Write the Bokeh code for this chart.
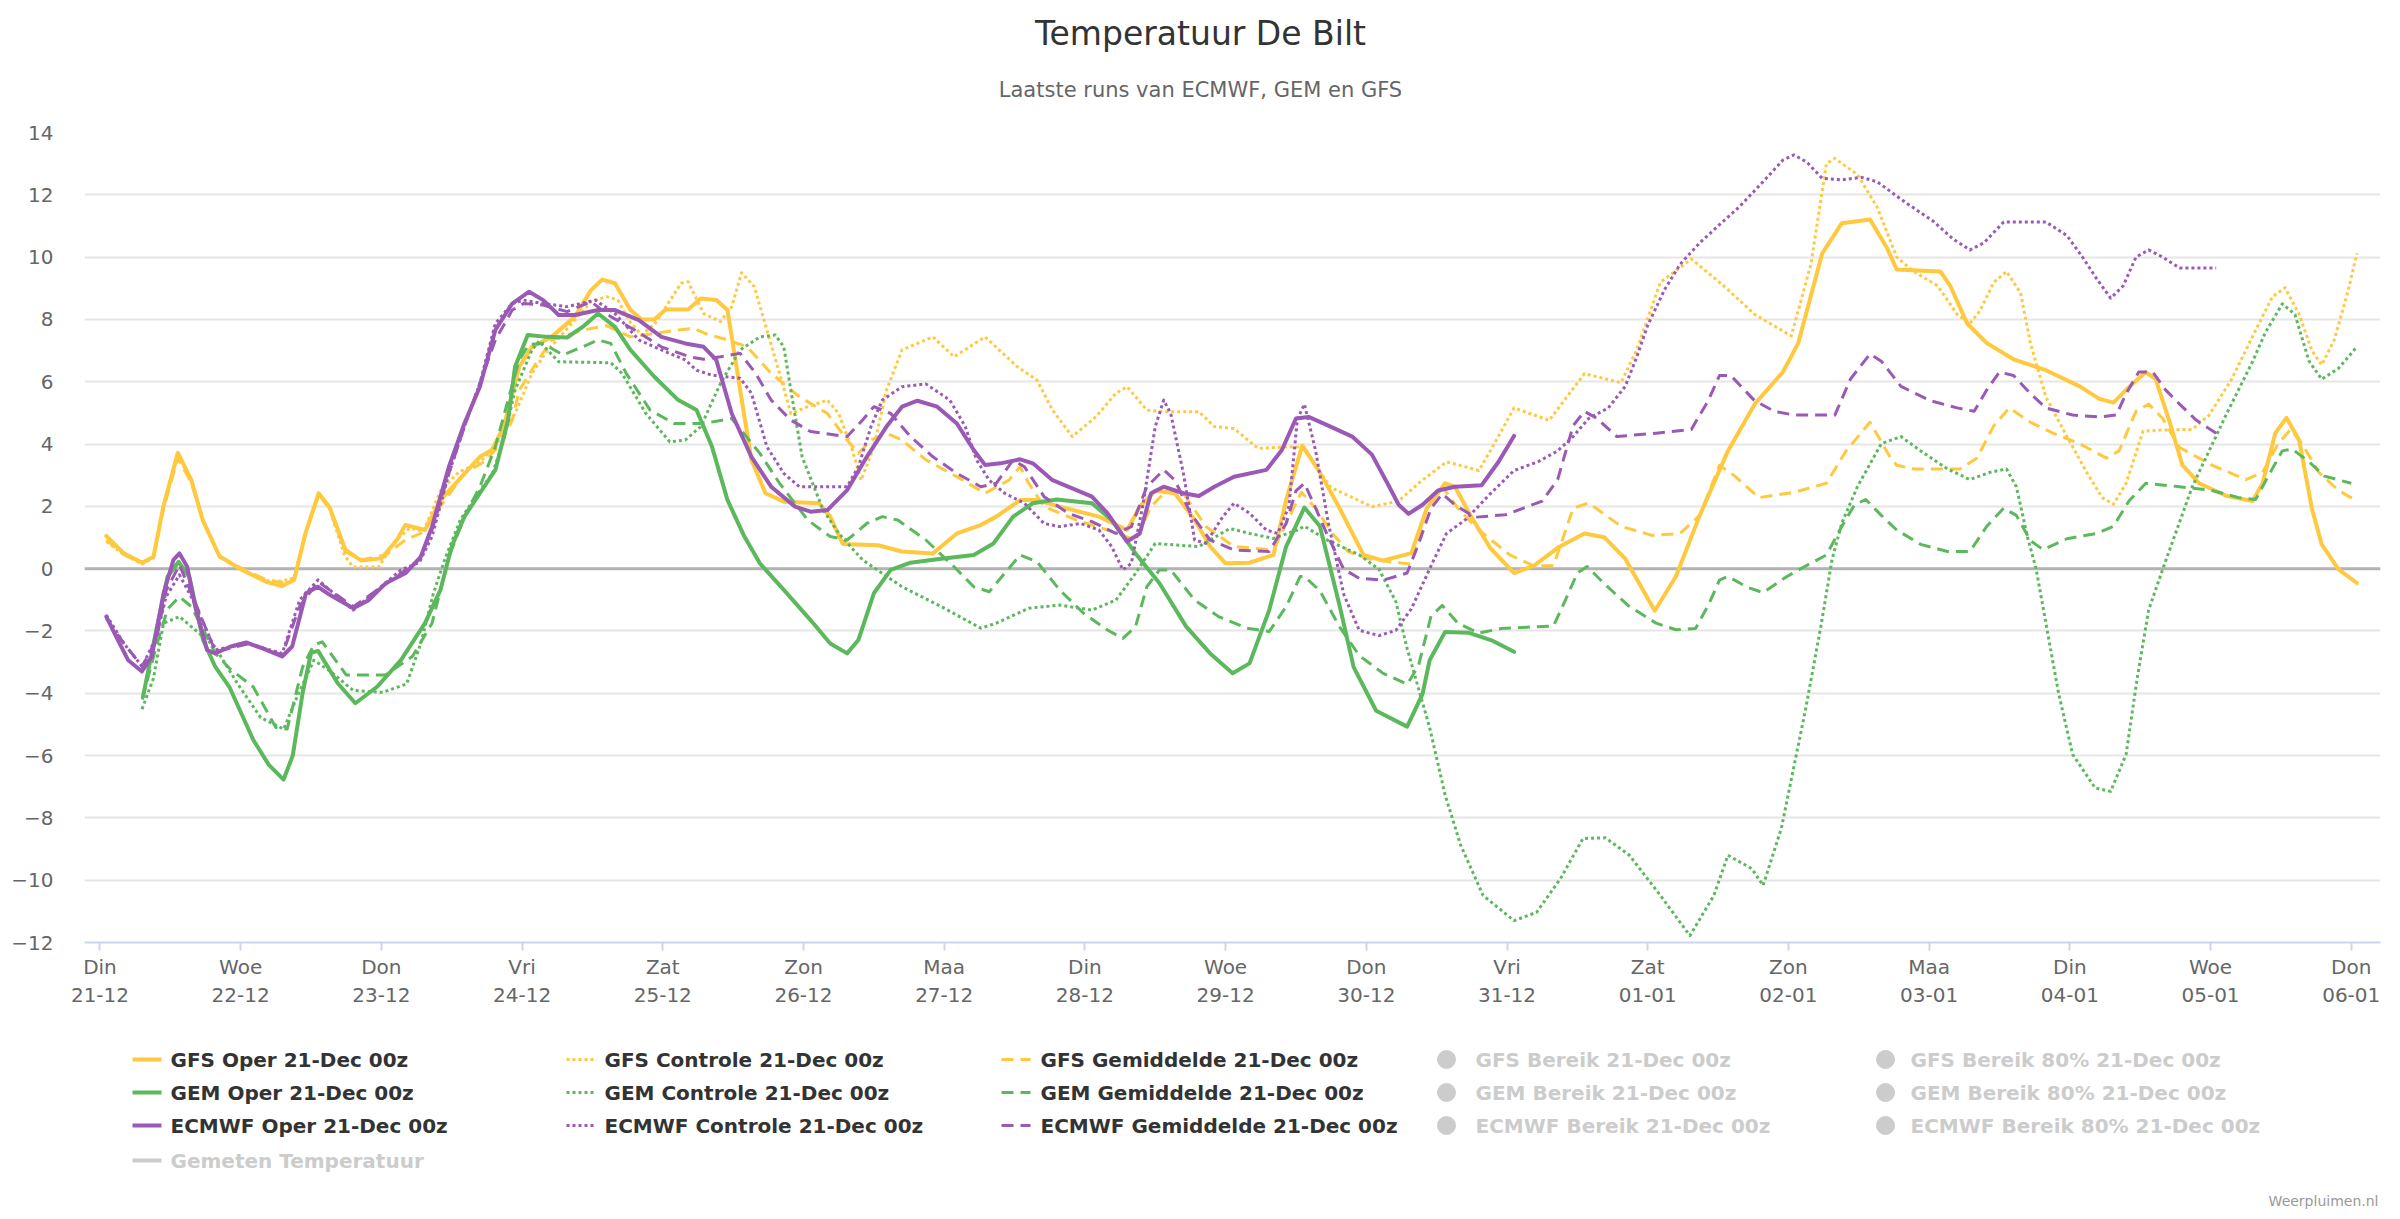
from bokeh.plotting import figure
from bokeh.models import Range1d, FixedTicker, Span
from bokeh.layouts import column
from bokeh.embed import file_html
from bokeh.resources import INLINE
from bokeh.core.properties import value

# ---------------- data (x = days since 21-12 00z, y = temperature °C) ----------------
day_names = ["Din", "Woe", "Don", "Vri", "Zat", "Zon", "Maa", "Din", "Woe",
             "Don", "Vri", "Zat", "Zon", "Maa", "Din", "Woe", "Don"]
day_dates = ["21-12", "22-12", "23-12", "24-12", "25-12", "26-12", "27-12", "28-12",
             "29-12", "30-12", "31-12", "01-01", "02-01", "03-01", "04-01", "05-01", "06-01"]
y_ticks = [-12, -10, -8, -6, -4, -2, 0, 2, 4, 6, 8, 10, 12, 14]

gfs_oper_x = [0.045, 0.17, 0.30, 0.38, 0.45, 0.553, 0.65, 0.73, 0.85, 1.01, 1.18, 1.295, 1.38, 1.46, 1.554,
              1.63, 1.745, 1.857, 2.00, 2.11, 2.17, 2.31, 2.42, 2.56, 2.70, 2.785, 2.87, 2.98, 3.07, 3.21,
              3.375, 3.49, 3.57, 3.66, 3.77, 3.85, 3.94, 4.02, 4.18, 4.27, 4.38, 4.46, 4.55, 4.63, 4.73,
              4.86, 5.11, 5.19, 5.28, 5.53, 5.70, 5.92, 6.09, 6.26, 6.37, 6.54, 6.66, 6.82, 7.10, 7.30,
              7.39, 7.50, 7.64, 7.78, 7.89, 8.00, 8.17, 8.34, 8.43, 8.545, 8.67, 8.81, 8.98, 9.12, 9.32,
              9.43, 9.56, 9.63, 9.74, 9.88, 10.05, 10.19, 10.36, 10.55, 10.69, 10.84, 11.05, 11.20, 11.37,
              11.57, 11.76, 11.96, 12.07, 12.24, 12.38, 12.58, 12.70, 12.77, 13.08, 13.15, 13.27, 13.41,
              13.60, 13.83, 14.07, 14.21, 14.31, 14.40, 14.54, 14.61, 14.71, 14.80, 14.92, 15.11, 15.30,
              15.37, 15.46, 15.54, 15.63, 15.72, 15.79, 15.91, 16.04]
gfs_oper_t = [1.05, 0.49, 0.19, 0.38, 1.99, 3.72, 2.84, 1.56, 0.39, -0.04, -0.42, -0.56, -0.36, 1.13, 2.42,
              1.99, 0.60, 0.26, 0.33, 0.92, 1.40, 1.24, 2.20, 2.90, 3.59, 3.81, 4.56, 6.48, 7.12, 7.44,
              8.09, 8.94, 9.28, 9.16, 8.30, 8.00, 8.00, 8.32, 8.32, 8.67, 8.62, 8.30, 5.73, 3.49, 2.42,
              2.15, 2.10, 1.67, 0.79, 0.75, 0.55, 0.49, 1.13, 1.40, 1.67, 2.20, 2.20, 1.99, 1.67, 1.24,
              1.99, 2.50, 2.42, 1.56, 0.71, 0.17, 0.19, 0.44, 2.20, 3.95, 3.09, 1.94, 0.44, 0.26, 0.50,
              1.94, 2.74, 2.63, 1.71, 0.67, -0.14, 0.09, 0.67, 1.13, 1.01, 0.32, -1.35, -0.25, 1.71,
              3.78, 5.28, 6.31, 7.24, 10.12, 11.09, 11.21, 10.30, 9.60, 9.54, 9.08, 7.87, 7.24,
              6.72, 6.37, 5.85, 5.45, 5.33, 5.74, 6.31, 6.08, 4.70, 3.32, 2.74, 2.34, 2.17,
              2.74, 4.35, 4.84, 4.12, 1.94, 0.78, -0.02, -0.46]

gfs_ctrl_x = [0.045, 0.17, 0.30, 0.38, 0.45, 0.553, 0.65, 0.73, 0.85, 1.01, 1.18, 1.29, 1.38, 1.46, 1.554,
              1.63, 1.74, 1.80, 1.98, 2.10, 2.20, 2.30, 2.42, 2.55, 2.70, 2.85, 2.95, 3.07, 3.18, 3.30,
              3.49, 3.60, 3.68, 3.77, 3.85, 3.95, 4.05, 4.13, 4.18, 4.29, 4.41, 4.49, 4.56, 4.65, 4.74,
              4.83, 4.91, 5.03, 5.17, 5.25, 5.34, 5.41, 5.50, 5.59, 5.70, 5.92, 6.07, 6.29, 6.52, 6.66,
              6.77, 6.91, 7.08, 7.22, 7.30, 7.44, 7.55, 7.81, 7.92, 8.06, 8.23, 8.45, 8.56, 8.67, 8.75,
              9.04, 9.23, 9.37, 9.57, 9.80, 9.91, 10.05, 10.30, 10.55, 10.81, 10.92, 11.09, 11.31, 11.54,
              11.76, 12.02, 12.16, 12.27, 12.33, 12.49, 12.63, 12.77, 12.89, 13.06, 13.20, 13.29, 13.36,
              13.46, 13.55, 13.65, 13.72, 13.83, 13.98, 14.12, 14.23, 14.31, 14.40, 14.52, 14.66, 14.87,
              14.99, 15.15, 15.30, 15.44, 15.53, 15.63, 15.72, 15.79, 15.88, 15.98, 16.04]
gfs_ctrl_t = [0.87, 0.45, 0.15, 0.35, 1.95, 3.65, 2.80, 1.60, 0.40, -0.05, -0.38, -0.40, -0.30, 1.10, 2.40,
              1.95, 0.40, 0.05, 0.05, 0.90, 1.30, 1.20, 2.50, 3.10, 3.40, 4.20, 4.98, 6.27, 7.00, 7.60,
              8.57, 8.73, 8.62, 7.90, 7.50, 7.90, 8.60, 9.16, 9.21, 8.19, 7.93, 8.41, 9.50, 9.05, 7.66,
              6.27, 4.98, 5.20, 5.41, 4.98, 3.91, 2.84, 3.91, 5.73, 7.02, 7.44, 6.80, 7.44, 6.48, 6.05,
              5.09, 4.24, 4.88, 5.63, 5.84, 5.09, 5.04, 5.04, 4.56, 4.50, 3.86, 3.91, 3.90, 3.09, 2.60,
              1.99, 2.17, 2.74, 3.43, 3.15, 4.01, 5.16, 4.76, 6.26, 5.97, 7.00, 9.19, 9.94, 9.08,
              8.16, 7.47, 9.77, 13.00, 13.17, 12.65, 11.61, 10.00, 9.54, 9.08, 8.16, 7.87, 8.27,
              9.19, 9.54, 8.85, 7.24, 5.51, 4.24, 3.09, 2.28, 2.07, 2.74, 4.41, 4.45, 4.47,
              4.93, 6.08, 7.47, 8.73, 9.02, 8.16, 7.00, 6.54, 7.35, 8.96, 10.12]

gfs_mean_x = [0.045, 0.17, 0.30, 0.38, 0.45, 0.553, 0.65, 0.73, 0.85, 1.01, 1.18, 1.29, 1.38, 1.46, 1.554,
              1.63, 1.74, 1.857, 2.03, 2.17, 2.28, 2.42, 2.59, 2.73, 2.85, 2.93, 2.98, 3.10, 3.21, 3.43,
              3.60, 3.77, 3.94, 4.11, 4.22, 4.30, 4.46, 4.60, 4.77, 4.97, 5.17, 5.31, 5.39, 5.48, 5.59,
              5.70, 5.87, 6.09, 6.29, 6.46, 6.54, 6.60, 6.71, 6.94, 7.16, 7.36, 7.47, 7.58, 7.70, 7.86,
              8.06, 8.34, 8.51, 8.54, 8.64, 8.76, 8.87, 9.01, 9.18, 9.32, 9.43, 9.54, 9.65, 9.80, 10.02,
              10.19, 10.33, 10.47, 10.58, 10.81, 11.03, 11.23, 11.37, 11.51, 11.62, 11.79, 12.04, 12.27,
              12.41, 12.58, 12.72, 12.77, 12.89, 13.22, 13.34, 13.46, 13.57, 13.72, 13.88, 14.07, 14.26,
              14.35, 14.47, 14.56, 14.66, 14.78, 15.01, 15.25, 15.37, 15.48, 15.57, 15.65, 15.77, 15.91,
              16.04]
gfs_mean_t = [0.92, 0.45, 0.18, 0.35, 1.90, 3.55, 2.75, 1.55, 0.40, 0.00, -0.35, -0.45, -0.30, 1.10, 2.35,
              1.95, 0.55, 0.28, 0.44, 0.92, 1.13, 2.00, 3.06, 3.43, 4.00, 4.77, 5.73, 6.60, 7.34, 7.66,
              7.80, 7.44, 7.55, 7.66, 7.71, 7.55, 7.34, 7.12, 6.27, 5.52, 4.98, 4.13, 3.70, 4.13, 4.34,
              4.13, 3.49, 2.95, 2.42, 2.84, 3.27, 2.74, 1.99, 1.56, 1.24, 0.92, 1.99, 2.52, 2.42, 1.35,
              0.71, 0.60, 2.20, 2.45, 1.94, 1.13, 0.55, 0.32, 0.21, 0.15, 1.94, 2.63, 1.94, 1.24, 0.44,
              0.09, 0.09, 1.94, 2.11, 1.36, 1.07, 1.13, 1.71, 3.32, 2.97, 2.28, 2.45, 2.74,
              3.78, 4.70, 3.60, 3.32, 3.20, 3.20, 3.55, 4.59, 5.16, 4.70, 4.35, 4.01, 3.55,
              3.78, 5.05, 5.28, 4.82, 3.89, 3.32, 2.86, 3.09, 4.01, 4.47, 4.01, 3.09, 2.51,
              2.17]

gem_oper_x = [0.306, 0.396, 0.48, 0.559, 0.635, 0.733, 0.818, 0.92, 1.09, 1.20, 1.305, 1.37, 1.44, 1.50,
              1.55, 1.69, 1.815, 1.97, 2.14, 2.31, 2.42, 2.50, 2.59, 2.70, 2.81, 2.90, 2.95, 3.04, 3.18,
              3.32, 3.43, 3.54, 3.66, 3.77, 3.94, 4.11, 4.24, 4.35, 4.46, 4.58, 4.69, 4.86, 5.05, 5.19,
              5.31, 5.39, 5.50, 5.62, 5.76, 5.95, 6.21, 6.35, 6.49, 6.63, 6.80, 7.05, 7.19, 7.36, 7.53,
              7.72, 7.89, 8.05, 8.17, 8.31, 8.43, 8.56, 8.67, 8.81, 8.91, 9.07, 9.29, 9.40, 9.45, 9.56,
              9.73, 9.89, 10.05]
gem_oper_t = [-4.11, -2.07, -0.26, 0.22, -0.26, -2.29, -3.14, -3.80, -5.50, -6.30, -6.77, -6.00, -4.00, -2.70,
              -2.64, -3.68, -4.32, -3.79, -2.93, -1.75, -0.68, 0.71, 1.67, 2.42, 3.17, 4.77, 6.48, 7.50, 7.44,
              7.42, 7.76, 8.19, 7.76, 7.02, 6.16, 5.41, 5.09, 3.91, 2.20, 1.03, 0.17, -0.68, -1.65, -2.40,
              -2.72, -2.29, -0.79, -0.04, 0.19, 0.30, 0.44, 0.81, 1.67, 2.10, 2.22, 2.10, 1.56, 0.49, -0.47,
              -1.86, -2.72, -3.36, -3.04, -1.33, 0.71, 1.96, 1.36, -1.18, -3.16, -4.56, -5.07, -4.02, -2.94, -2.03,
              -2.06, -2.30, -2.67]

gem_ctrl_x = [0.299, 0.38, 0.452, 0.565, 0.649, 0.816, 0.979, 1.142, 1.305, 1.41, 1.52, 1.63, 1.80, 2.01,
              2.18, 2.28, 2.37, 2.45, 2.56, 2.67, 2.79, 2.87, 2.95, 3.07, 3.12, 3.26, 3.63, 3.71, 3.88,
              4.05, 4.16, 4.27, 4.41, 4.55, 4.69, 4.80, 4.86, 4.91, 4.99, 5.14, 5.25, 5.42, 5.70, 5.98,
              6.26, 6.37, 6.60, 6.82, 7.05, 7.22, 7.36, 7.50, 7.64, 7.81, 8.03, 8.17, 8.34, 8.51, 8.56,
              8.73, 8.95, 9.09, 9.21, 9.29, 9.45, 9.56, 9.67, 9.83, 10.05, 10.21, 10.38, 10.54, 10.70,
              10.87, 11.09, 11.30, 11.47, 11.57, 11.74, 11.82, 11.95, 12.12, 12.23, 12.31, 12.38, 12.49,
              12.66, 12.80, 12.94, 13.13, 13.29, 13.43, 13.55, 13.62, 13.70, 13.76, 13.84, 13.92, 14.02,
              14.18, 14.29, 14.40, 14.48, 14.56, 14.66, 14.87, 15.11, 15.30, 15.39, 15.51, 15.60, 15.70,
              15.79, 15.91, 16.04]
gem_ctrl_t = [-4.51, -3.52, -1.75, -1.54, -1.86, -2.51, -3.70, -4.78, -5.15, -4.02, -2.94, -3.27, -3.91, -3.97,
              -3.70, -2.40, -0.79, 0.29, 1.56, 2.31, 3.06, 4.13, 5.73, 7.02, 7.30, 6.64, 6.61, 6.27, 4.98,
              4.07, 4.13, 4.56, 5.95, 7.02, 7.44, 7.50, 7.12, 5.73, 3.59, 1.88, 1.13, 0.28, -0.58, -1.22,
              -1.91, -1.75, -1.27, -1.17, -1.33, -1.01, -0.15, 0.81, 0.76, 0.71, 1.29, 1.13, 0.97, 1.24, 1.36,
              0.90, 0.44, -0.02, -1.06, -2.56, -5.10, -7.26, -8.87, -10.49, -11.30, -11.03, -9.95, -8.66, -8.64,
              -9.20, -10.49, -11.78, -10.49, -9.20, -9.63, -10.17, -8.33, -4.56, -1.87, 0.29, 1.47, 2.63,
              4.01, 4.24, 3.78, 3.20, 2.86, 3.09, 3.20, 2.63, 1.00, 0.00, -2.00, -4.00, -5.96,
              -7.04, -7.15, -5.96, -3.48, -1.33, -0.02, 2.63, 4.93, 6.66, 7.58, 8.50, 8.16, 6.66,
              6.08, 6.43, 7.12]

gem_mean_x = [0.30, 0.40, 0.48, 0.565, 0.65, 0.82, 0.92, 1.09, 1.25, 1.33, 1.44, 1.52, 1.58, 1.75, 2.03,
              2.22, 2.36, 2.48, 2.59, 2.70, 2.81, 2.90, 2.98, 3.05, 3.15, 3.29, 3.43, 3.54, 3.63, 3.74,
              3.91, 4.08, 4.29, 4.49, 4.69, 4.83, 5.03, 5.19, 5.31, 5.45, 5.56, 5.67, 5.87, 6.07, 6.21,
              6.32, 6.43, 6.54, 6.66, 6.82, 6.99, 7.16, 7.27, 7.36, 7.44, 7.53, 7.61, 7.78, 7.95, 8.15,
              8.31, 8.43, 8.53, 8.56, 8.67, 8.81, 8.95, 9.12, 9.29, 9.37, 9.46, 9.54, 9.65, 9.80, 9.96,
              10.19, 10.33, 10.41, 10.50, 10.57, 10.69, 10.86, 11.06, 11.20, 11.34, 11.43, 11.51, 11.57,
              11.71, 11.82, 11.99, 12.10, 12.27, 12.38, 12.47, 12.55, 12.66, 12.77, 12.94, 13.13, 13.29,
              13.41, 13.53, 13.62, 13.72, 13.81, 13.98, 14.19, 14.31, 14.42, 14.54, 14.78, 15.01, 15.20,
              15.32, 15.41, 15.51, 15.58, 15.70, 15.81, 16.00]
gem_mean_t = [-4.20, -2.50, -1.30, -0.90, -1.22, -2.72, -3.20, -3.80, -5.10, -5.15, -3.16, -2.45, -2.35, -3.41, -3.41,
              -2.82, -1.75, 0.38, 1.67, 2.63, 3.91, 5.41, 6.70, 7.20, 7.23, 6.86, 7.12, 7.34, 7.23, 6.27,
              5.09, 4.66, 4.66, 4.82, 3.70, 2.74, 1.56, 1.03, 0.92, 1.45, 1.67, 1.56, 0.92, 0.06, -0.58,
              -0.74, -0.15, 0.44, 0.22, -0.68, -1.43, -1.97, -2.24, -1.86, -0.58, -0.04, -0.04, -1.01, -1.54, -1.91,
              -2.02, -1.22, -0.25, -0.25, -0.71, -1.87, -2.79, -3.36, -3.71, -3.13, -1.52, -1.18, -1.75, -2.07, -1.92,
              -1.87, -1.84, -1.06, -0.14, 0.07, -0.48, -1.18, -1.75, -1.96, -1.92, -1.18, -0.37, -0.25,
              -0.60, -0.77, -0.25, 0.03, 0.44, 1.36, 2.05, 2.22, 1.71, 1.24, 0.78, 0.55, 0.55,
              1.36, 1.94, 1.71, 0.90, 0.61, 0.96, 1.13, 1.36, 2.17, 2.74, 2.63, 2.51, 2.28,
              2.22, 2.97, 3.78, 3.84, 3.43, 2.97, 2.74]

ecm_oper_x = [0.045, 0.115, 0.199, 0.298, 0.368, 0.452, 0.522, 0.565, 0.62, 0.677, 0.761, 0.818, 0.93, 1.04,
              1.155, 1.295, 1.366, 1.464, 1.548, 1.633, 1.80, 1.91, 2.03, 2.17, 2.28, 2.36, 2.48, 2.59, 2.70,
              2.81, 2.93, 3.05, 3.15, 3.26, 3.375, 3.54, 3.66, 3.83, 3.99, 4.16, 4.29, 4.38, 4.49, 4.63,
              4.77, 4.94, 5.05, 5.17, 5.31, 5.45, 5.59, 5.70, 5.81, 5.95, 6.09, 6.21, 6.29, 6.40, 6.54,
              6.63, 6.77, 6.94, 7.05, 7.16, 7.30, 7.39, 7.47, 7.56, 7.70, 7.81, 7.92, 8.06, 8.29, 8.40,
              8.50, 8.59, 8.73, 8.90, 9.04, 9.15, 9.23, 9.30, 9.40, 9.51, 9.63, 9.82, 9.94, 10.05]
ecm_oper_t = [-1.54, -2.18, -2.93, -3.30, -2.82, -0.79, 0.28, 0.49, 0.06, -1.22, -2.61, -2.72, -2.50, -2.37,
              -2.56, -2.82, -2.50, -0.79, -0.58, -0.84, -1.27, -1.01, -0.47, -0.15, 0.38, 1.35, 3.27, 4.66, 5.84,
              7.66, 8.51, 8.89, 8.62, 8.14, 8.14, 8.30, 8.30, 7.98, 7.44, 7.23, 7.12, 6.70, 4.98, 3.59,
              2.63, 1.99, 1.83, 1.88, 2.52, 3.59, 4.56, 5.20, 5.39, 5.20, 4.66, 3.81, 3.33, 3.38, 3.51,
              3.38, 2.84, 2.52, 2.31, 1.78, 0.87, 1.13, 2.42, 2.63, 2.42, 2.33, 2.63, 2.95, 3.17, 3.81,
              4.82, 4.87, 4.59, 4.24, 3.66, 2.74, 2.05, 1.76, 2.05, 2.51, 2.63, 2.68, 3.43, 4.26]

ecm_ctrl_x = [0.045, 0.17, 0.30, 0.40, 0.47, 0.565, 0.66, 0.82, 1.04, 1.295, 1.42, 1.55, 1.80, 2.14, 2.27,
              2.36, 2.48, 2.59, 2.70, 2.81, 2.93, 3.01, 3.15, 3.32, 3.52, 3.66, 3.83, 3.99, 4.16, 4.24,
              4.35, 4.55, 4.63, 4.74, 4.86, 4.97, 5.31, 5.39, 5.48, 5.56, 5.70, 5.87, 6.04, 6.15, 6.23,
              6.32, 6.43, 6.57, 6.71, 6.82, 6.97, 7.10, 7.19, 7.27, 7.33, 7.41, 7.50, 7.56, 7.61, 7.70,
              7.78, 7.86, 7.98, 8.06, 8.17, 8.29, 8.37, 8.45, 8.51, 8.56, 8.64, 8.73, 8.84, 8.95, 9.09,
              9.21, 9.32, 9.46, 9.57, 9.71, 9.88, 10.05, 10.22, 10.36, 10.47, 10.58, 10.72, 10.84, 10.92,
              11.00, 11.12, 11.23, 11.37, 11.51, 11.65, 11.82, 11.96, 12.04, 12.13, 12.24, 12.38, 12.52,
              12.63, 12.84, 13.03, 13.17, 13.29, 13.39, 13.53, 13.83, 13.98, 14.09, 14.19, 14.29, 14.38,
              14.47, 14.56, 14.66, 14.78, 15.04]
ecm_ctrl_t = [-1.49, -2.40, -3.14, -2.20, -0.90, -0.20, -1.00, -2.61, -2.40, -2.72, -1.00, -0.36, -1.33, -0.04, 0.20,
              1.03, 3.06, 4.56, 5.95, 7.87, 8.51, 8.62, 8.51, 8.41, 8.62, 8.19, 7.34, 7.02, 6.70, 6.37,
              6.21, 6.11, 5.63, 3.91, 3.06, 2.63, 2.63, 3.27, 4.56, 5.41, 5.84, 5.93, 5.41, 4.56, 3.49,
              2.84, 2.42, 2.10, 1.45, 1.35, 1.45, 1.24, 0.71, -0.04, 0.17, 1.99, 4.56, 5.41, 4.98, 3.06,
              0.92, 0.81, 1.67, 2.10, 1.78, 1.24, 1.13, 2.00, 4.80, 5.28, 3.78, 1.47, -0.83, -1.98, -2.15,
              -1.98, -1.29, 0.09, 1.13, 1.59, 2.40, 3.15, 3.43, 3.78, 4.24, 4.82, 5.16, 5.85, 6.77,
              7.81, 8.96, 9.77, 10.46, 11.04, 11.61, 12.42, 13.11, 13.28, 13.05, 12.53, 12.48, 12.56,
              12.42, 11.73, 11.15, 10.58, 10.23, 10.46, 11.13, 11.13, 10.69, 10.00, 9.31, 8.68, 9.08,
              10.00, 10.23, 10.00, 9.65, 9.65]

ecm_mean_x = [0.045, 0.17, 0.30, 0.40, 0.47, 0.565, 0.66, 0.82, 1.07, 1.295, 1.42, 1.55, 1.80, 2.14, 2.27,
              2.36, 2.48, 2.59, 2.70, 2.81, 2.93, 3.01, 3.15, 3.32, 3.49, 3.63, 3.80, 3.99, 4.19, 4.29,
              4.41, 4.55, 4.66, 4.77, 4.91, 5.05, 5.31, 5.42, 5.50, 5.62, 5.76, 5.92, 6.09, 6.26, 6.37,
              6.49, 6.57, 6.71, 6.88, 7.05, 7.22, 7.33, 7.44, 7.56, 7.64, 7.75, 7.89, 8.06, 8.31, 8.43,
              8.50, 8.56, 8.64, 8.73, 8.84, 8.95, 9.12, 9.29, 9.37, 9.46, 9.54, 9.63, 9.77, 9.99, 10.25,
              10.36, 10.47, 10.55, 10.64, 10.78, 11.06, 11.31, 11.43, 11.51, 11.59, 11.76, 11.90, 12.04,
              12.33, 12.44, 12.58, 12.66, 12.80, 13.01, 13.20, 13.32, 13.41, 13.50, 13.60, 13.72, 13.83,
              14.02, 14.21, 14.33, 14.40, 14.49, 14.59, 14.68, 14.78, 14.90, 15.04]
ecm_mean_t = [-1.60, -2.40, -3.14, -2.30, -0.70, 0.12, -0.90, -2.66, -2.40, -2.77, -1.20, -0.42, -1.22, -0.15, 0.30,
              1.24, 3.06, 4.56, 5.95, 7.34, 8.30, 8.51, 8.46, 8.25, 8.57, 8.09, 7.66, 7.12, 6.80, 6.72,
              6.80, 6.91, 6.27, 5.41, 4.77, 4.40, 4.24, 4.77, 5.20, 4.98, 4.24, 3.59, 3.06, 2.63, 2.74,
              3.49, 3.27, 2.31, 1.78, 1.51, 1.13, 1.35, 2.63, 3.17, 2.84, 1.78, 0.92, 0.60, 0.55, 1.45,
              2.50, 2.74, 1.94, 1.01, -0.02, -0.31, -0.37, -0.14, 0.78, 1.94, 2.40, 2.05, 1.65, 1.73, 2.17,
              2.86, 4.59, 5.05, 4.82, 4.24, 4.35, 4.47, 5.39, 6.20, 6.20, 5.39, 5.05, 4.93,
              4.93, 6.08, 6.89, 6.66, 5.85, 5.39, 5.16, 5.05, 5.74, 6.31, 6.20, 5.62, 5.16,
              4.93, 4.87, 4.93, 5.62, 6.31, 6.31, 5.74, 5.28, 4.76, 4.35]

# ---------------- styling / layout ----------------
FONT = "DejaVu Sans"
W = 2384
FRAME_L, FRAME_R = 84, 2380          # page pixels of the plot frame
HDR_H = 108
MAIN_H = 914
LEG_H = 189
YELLOW, GREEN, PURPLE = "#ffc93f", "#5cb85c", "#9b59b6"
DOT, DASH = "3 3", "12 7"
BORDERS = dict(min_border_left=FRAME_L, min_border_right=W - FRAME_R)


def strip(height):
    """Figure without axes whose x values are page pixels and y values are pixels from its top."""
    f = figure(width=W, height=height, x_range=Range1d(FRAME_L, FRAME_R), y_range=Range1d(height, 0),
               x_axis_location=None, y_axis_location=None, toolbar_location=None, title=None,
               output_backend="svg", min_border_top=0, min_border_bottom=0, **BORDERS)
    f.grid.visible = False
    f.outline_line_color = None
    return f


# header (title + subtitle)
hdr = strip(HDR_H)
hdr.text(x=[1200], y=[33], text=["Temperatuur De Bilt"], text_font=value(FONT),
         text_font_size="33px", text_color="#333333", text_align="center", text_baseline="middle")
hdr.text(x=[1200], y=[89], text=["Laatste runs van ECMWF, GEM en GFS"], text_font=value(FONT),
         text_font_size="21px", text_color="#666666", text_align="center", text_baseline="middle")

# main chart
p = figure(width=W, height=MAIN_H, x_range=Range1d(-0.110, 16.208), y_range=Range1d(-12, 14),
           toolbar_location=None, output_backend="svg",
           min_border_top=24, min_border_bottom=80, **BORDERS)
p.outline_line_color = None
p.xgrid.visible = False
p.ygrid.ticker = FixedTicker(ticks=y_ticks)
p.ygrid.grid_line_color = "#e6e6e6"
p.ygrid.grid_line_width = 2

p.xaxis.ticker = FixedTicker(ticks=list(range(len(day_names))))
p.xaxis.major_label_overrides = {i: f"{n}\n{d}" for i, (n, d) in enumerate(zip(day_names, day_dates))}
p.xaxis.axis_line_color = "#ccd6eb"
p.xaxis.axis_line_width = 2
p.xaxis.major_tick_line_color = "#ccd6eb"
p.xaxis.major_tick_line_width = 2
p.xaxis.major_tick_out = 8
p.xaxis.major_tick_in = 0
p.xaxis.minor_tick_line_color = None
p.xaxis.major_label_standoff = 4
p.xaxis.major_label_text_font = FONT
p.xaxis.major_label_text_font_size = "20px"
p.xaxis.major_label_text_color = "#666666"

p.yaxis.ticker = FixedTicker(ticks=y_ticks)
p.yaxis.axis_line_color = None
p.yaxis.major_tick_line_color = None
p.yaxis.minor_tick_line_color = None
p.yaxis.major_label_standoff = 25
p.yaxis.major_label_text_font = FONT
p.yaxis.major_label_text_font_size = "20px"
p.yaxis.major_label_text_color = "#666666"

p.add_layout(Span(location=0, dimension="width", line_color="#b3b3b3", line_width=3, level="underlay"))

series = [
    ("GFS Oper 21-Dec 00z", gfs_oper_x, gfs_oper_t, YELLOW, "solid"),
    ("GFS Controle 21-Dec 00z", gfs_ctrl_x, gfs_ctrl_t, YELLOW, DOT),
    ("GFS Gemiddelde 21-Dec 00z", gfs_mean_x, gfs_mean_t, YELLOW, DASH),
    ("GEM Oper 21-Dec 00z", gem_oper_x, gem_oper_t, GREEN, "solid"),
    ("GEM Controle 21-Dec 00z", gem_ctrl_x, gem_ctrl_t, GREEN, DOT),
    ("GEM Gemiddelde 21-Dec 00z", gem_mean_x, gem_mean_t, GREEN, DASH),
    ("ECMWF Oper 21-Dec 00z", ecm_oper_x, ecm_oper_t, PURPLE, "solid"),
    ("ECMWF Controle 21-Dec 00z", ecm_ctrl_x, ecm_ctrl_t, PURPLE, DOT),
    ("ECMWF Gemiddelde 21-Dec 00z", ecm_mean_x, ecm_mean_t, PURPLE, DASH),
]
for name, xs, ys, col, dash in series:
    solid = dash == "solid"
    p.line(xs, ys, line_color=col, line_width=4 if solid else 3, line_dash=dash,
           line_join="round", line_cap="round" if solid else "butt")

# legend (manual, in its own strip; x in page pixels)
leg = strip(LEG_H)
row_y = [37, 70, 103, 138]
line_cols = [(132, 170), (566, 604), (1001, 1040)]
SYM_W = 29
LEG_FONT = dict(text_font=value(FONT), text_font_style="bold", text_font_size="20px", text_baseline="middle")
for i, (name, xs, ys, col, dash) in enumerate(series):
    r, c = i // 3, i % 3
    sx, tx = line_cols[c]
    solid = dash == "solid"
    leg.line([sx, sx + SYM_W], [row_y[r], row_y[r]], line_color=col,
             line_width=4 if solid else 3, line_dash=dash)
    leg.text(x=[tx], y=[row_y[r]], text=[name], text_color="#333333", **LEG_FONT)

GREY = "#cccccc"
leg.line([132, 132 + SYM_W], [row_y[3], row_y[3]], line_color=GREY, line_width=4)
leg.text(x=[170], y=[row_y[3]], text=["Gemeten Temperatuur"], text_color=GREY, **LEG_FONT)

range_models = ["GFS", "GEM", "ECMWF"]
circle_cols = [(1446, 1475, ""), (1885, 1910, " 80%")]
for r, m in enumerate(range_models):
    for cx, tx, suffix in circle_cols:
        leg.scatter([cx], [row_y[r]], size=18, marker="circle", fill_color=GREY, line_color=GREY)
        leg.text(x=[tx], y=[row_y[r]], text=[f"{m} Bereik{suffix} 21-Dec 00z"], text_color=GREY, **LEG_FONT)

leg.text(x=[2378], y=[178], text=["Weerpluimen.nl"], text_font=value(FONT), text_font_size="14px",
         text_color="#999999", text_align="right", text_baseline="middle")

layout = column(hdr, p, leg, spacing=0)
open("out.html", "w").write(file_html(layout, INLINE, title="Temperatuur De Bilt"))
